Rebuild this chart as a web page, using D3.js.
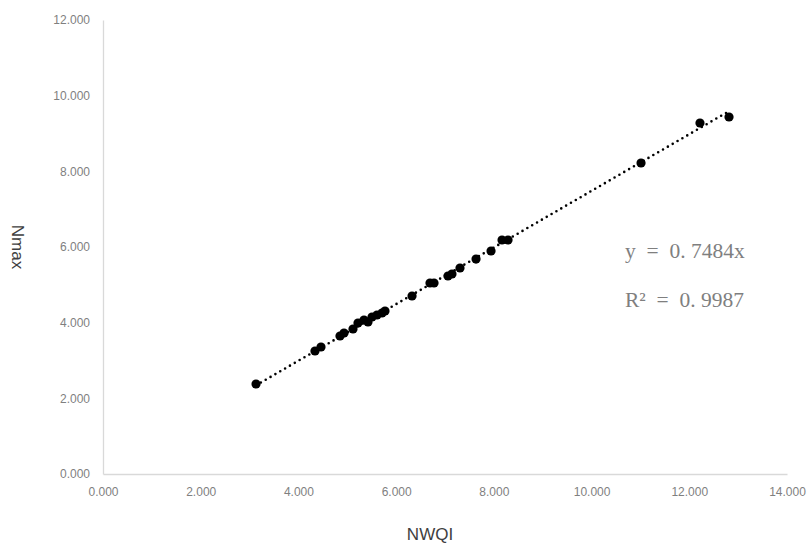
<!DOCTYPE html>
<html><head><meta charset="utf-8">
<script src="https://cdn.jsdelivr.net/npm/d3@7"></script>
<style>body{margin:0;background:#fff}svg{display:block}</style>
</head><body>
<svg id="c" width="808" height="545"></svg>
<script>
const nwqi = [3132,4339,4462,4851,4933,5117,5219,5342,5424,5506,5608,5711,5772,6325,6693,6775,7061,7143,7307,7635,7942,8167,8290,11012,12219,12813];
const nmax = [2379,3251,3357,3647,3727,3832,3991,4070,4017,4150,4202,4255,4308,4705,5048,5048,5233,5286,5445,5682,5894,6185,6185,8220,9277,9436];
const xTicks = [0,2000,4000,6000,8000,10000,12000,14000];
const yTicks = [0,2000,4000,6000,8000,10000,12000];
const xTickLabels = ["0.000","2.000","4.000","6.000","8.000","10.000","12.000","14.000"];
const yTickLabels = ["0.000","2.000","4.000","6.000","8.000","10.000","12.000"];
const slope = 0.7484;
const eqText = "y  =  0. 7484x";
const r2Text = "R²  =  0. 9987";

const svg = d3.select("#c");
const x = d3.scaleLinear().domain([0,14000]).range([103,787]);
const y = d3.scaleLinear().domain([0,12000]).range([474,20]);

const xa = svg.append("g").attr("transform","translate(0,474)")
  .call(d3.axisBottom(x).tickValues(xTicks).tickFormat((d,i)=>xTickLabels[i]).tickSize(0).tickPadding(13));
const ya = svg.append("g").attr("transform","translate(103,0)")
  .call(d3.axisLeft(y).tickValues(yTicks).tickFormat((d,i)=>yTickLabels[i]).tickSize(0).tickPadding(13));
[xa,ya].forEach(a=>{
  a.select(".domain").attr("stroke","#d9d9d9").attr("stroke-width",1.3);
  a.selectAll("text").attr("fill","#7f7f7f").style("font-family","'Liberation Sans',Arial,sans-serif").style("font-size","12px");
});

// trendline
const x0 = d3.min(nwqi), x1 = d3.max(nwqi);
svg.append("line")
  .attr("x1",x(x0)).attr("y1",y(slope*x0))
  .attr("x2",x(x1)).attr("y2",y(slope*x1))
  .attr("stroke","#000").attr("stroke-width",2.6)
  .attr("stroke-linecap","round").attr("stroke-dasharray","0,5.6");

svg.append("g").selectAll("circle").data(nwqi).join("circle")
  .attr("cx",(d)=>x(d)).attr("cy",(d,i)=>y(nmax[i])).attr("r",4.6).attr("fill","#000");

svg.append("text").attr("x",625).attr("y",258).text(eqText)
  .attr("fill","#7f7f7f").style("font-family","'Liberation Serif','DejaVu Serif',serif").style("font-size","21.5px").style("white-space","pre").attr("xml:space","preserve");
svg.append("text").attr("x",625).attr("y",307).text(r2Text)
  .attr("fill","#7f7f7f").style("font-family","'Liberation Serif','DejaVu Serif',serif").style("font-size","21.5px").style("white-space","pre").attr("xml:space","preserve");

svg.append("text").attr("transform","translate(12,247) rotate(90)").attr("text-anchor","middle")
  .text("Nmax").attr("fill","#404040").style("font-family","'Liberation Sans',Arial,sans-serif").style("font-size","17px");
svg.append("text").attr("x",430).attr("y",540).attr("text-anchor","middle")
  .text("NWQI").attr("fill","#404040").style("font-family","'Liberation Sans',Arial,sans-serif").style("font-size","17px");
</script>
</body></html>
